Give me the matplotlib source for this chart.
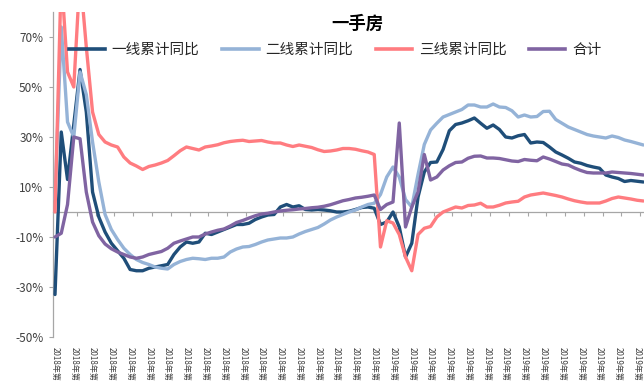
import numpy as np
import matplotlib
matplotlib.use("Agg")
import matplotlib.pyplot as plt
from matplotlib.lines import Line2D

CJK = ["Noto Sans CJK SC", "DejaVu Sans"]
plt.rcParams["font.family"] = CJK

# Weekly categories: 2018 weeks 1-52, 2019 weeks 1-43
weeks_2018 = 52
weeks_2019 = 43
categories = ([f"2018年第{w}周" for w in range(1, weeks_2018 + 1)]
              + [f"2019年第{w}周" for w in range(1, weeks_2019 + 1)])

tier1 = [-33, 32, 13, 35, 57, 40, 8, -2, -8, -12.5,
         -15.5, -18.5, -23, -23.5, -23.5, -22.5, -22, -21.5, -21, -17,
         -14, -12, -12.5, -12, -8.5, -9, -8, -7, -6, -5,
         -5, -4.5, -3, -2, -1.2, -1, 2, 3, 2, 2.5,
         1, 0.8, 1, 0.8, 0.5, 0, 0, 0.3, 1, 1.8,
         2, 1.5, -5, -4, 0, -6, -18, -12.5, 6, 16,
         19.8, 20, 25, 32.5, 35, 35.6, 36.5, 37.6, 35.5, 33.5,
         34.8, 33, 30, 29.6, 30.5, 31, 27.6, 28, 27.8, 26,
         24, 22.8, 21.5, 20, 19.5, 18.6, 18, 17.5, 14.8, 14,
         13.4, 12.2, 12.6, 12.3, 12]

tier2 = [5, 74, 36, 30, 56, 47, 28, 12, -1, -7,
         -11, -14.5, -17, -19, -20.2, -21, -22, -22.5, -22.8, -21,
         -19.8, -19, -18.5, -18.7, -19, -18.5, -18.5, -18, -16, -14.8,
         -14, -13.8, -13, -12, -11.2, -10.8, -10.4, -10.4, -10, -8.8,
         -7.8, -7, -6.2, -4.8, -3.2, -2, -1, 0, 0.8, 2,
         3, 3.5, 7, 14, 18, 14, 5, 2, 15, 27,
         32.8, 35.5, 38, 39, 40, 41, 42.8, 42.8, 42, 42,
         43.2, 42, 41.8, 40.5, 38, 38.8, 38, 38.2, 40.2, 40.3,
         37, 35.5, 34, 33, 32, 31, 30.4, 30, 29.6, 30.4,
         29.8, 28.8, 28.2, 27.5, 26.8]

tier3 = [0, 95, 56, 50, 95, 66, 40, 31, 28, 26.8,
         26, 22, 19.6, 18.4, 17, 18.2, 18.8, 19.6, 20.6, 22.5,
         24.5, 26, 25.4, 24.8, 26, 26.4, 26.9, 27.7, 28.2, 28.5,
         28.7, 28.2, 28.4, 28.6, 28, 27.6, 27.6, 26.8, 26.2, 26.8,
         26.3, 25.8, 24.9, 24.2, 24.4, 24.8, 25.4, 25.4, 25.1, 24.5,
         24, 23, -14, -3.5, -4.4, -9, -18, -23.5, -9, -6.5,
         -5.8, -2, 0, 1, 2, 1.6, 2.6, 2.8, 3.5, 2,
         2, 2.7, 3.6, 4, 4.3, 6, 6.8, 7.2, 7.6, 7.1,
         6.6, 6, 5.2, 4.5, 4, 3.6, 3.6, 3.6, 4.4, 5.4,
         6, 5.6, 5.2, 4.7, 4.4]

total = [-10, -8.5, 3, 30, 29.3, 8, -4, -9.5, -12.8, -14.7,
         -16, -17, -18, -18.5, -18, -17, -16.4, -15.8, -14.5, -12.5,
         -11.6, -10.8, -10, -10, -8.8, -8, -7.3, -6.8, -5.6, -4.2,
         -3.4, -2.4, -1.5, -0.8, -0.5, 0, 0.4, 0.7, 0.9, 1.2,
         1.4, 1.7, 1.9, 2.3, 2.9, 3.7, 4.5, 5, 5.6, 5.9,
         6.3, 6.8, 1, 3, 4, 35.6, -6, 2, 8, 23,
         12.8, 14, 16.8, 18.5, 19.8, 20, 21.5, 22.3, 22.4, 21.6,
         21.6, 21.4, 20.9, 20.4, 20.2, 21, 20.7, 20.5, 22, 21.2,
         20.2, 19.2, 18.8, 17.6, 16.6, 15.8, 15.6, 15.6, 15.6, 16,
         15.8, 15.6, 15.4, 15.1, 14.8]

series_names = ["一线累计同比", "二线累计同比", "三线累计同比", "合计"]
series_colors = ["#1F4E79", "#95B3D7", "#FF7C80", "#8064A2"]
series_values = [tier1, tier2, tier3, total]

y_ticks = [-50, -30, -10, 10, 30, 50, 70]

fig = plt.figure(figsize=(6.44, 3.81), dpi=100)
ax = fig.add_axes([53 / 644, 1 - 337 / 381, (644 - 53) / 644, (337 - 12) / 381])

x = np.arange(len(categories))
handles = []
for name, color, vals in zip(series_names, series_colors, series_values):
    ax.plot(x, vals, color=color, lw=2.4, solid_joinstyle="round",
            solid_capstyle="round", label=name, zorder=3)
    handles.append(Line2D([], [], color=color, lw=2.6))

ax.set_xlim(-0.32, 94.1)
ax.set_ylim(-50, 80)

# y axis
ax.set_yticks(y_ticks)
ax.set_yticklabels([f"{v}%" for v in y_ticks])
ax.tick_params(axis="y", length=3, width=0.8, color="#A6A6A6",
               labelsize=8.5, labelcolor="#404040", pad=4)
for side in ("top", "right", "bottom"):
    ax.spines[side].set_visible(False)
ax.spines["left"].set_color("#A6A6A6")
ax.spines["left"].set_linewidth(0.9)

# category labels at the bottom, every third week
lab_idx = np.arange(0, len(categories), 3)
ax.set_xticks(lab_idx)
ax.set_xticklabels([categories[i] for i in lab_idx], rotation=270,
                   fontsize=5.8, color="#404040")
ax.tick_params(axis="x", length=0, pad=7)

# horizontal axis line crossing at zero with its tick marks
zero_frac = (0 - (-50)) / (80 - (-50))
sec = ax.secondary_xaxis(zero_frac)
sec.set_xticks(np.arange(0.5, len(categories), 3))
sec.tick_params(axis="x", length=3, width=0.8, color="#A6A6A6",
                labelbottom=False, labeltop=False, direction="out")
sec.spines["bottom"].set_color("#A6A6A6")
sec.spines["bottom"].set_linewidth(0.9)
sec.set_zorder(1)

fig.text(357 / 644, 1 - 24 / 381, "一手房", ha="center", va="center",
         fontsize=12.5, fontweight="bold", color="#000000")

fig.legend(handles, series_names, loc="center",
           bbox_to_anchor=(335 / 644, 1 - 50 / 381), ncol=4, frameon=False,
           fontsize=10.5, handlelength=2.5, handletextpad=0.45,
           columnspacing=1.55, borderpad=0, labelcolor="#262626")

fig.savefig("out.png", dpi=100)
